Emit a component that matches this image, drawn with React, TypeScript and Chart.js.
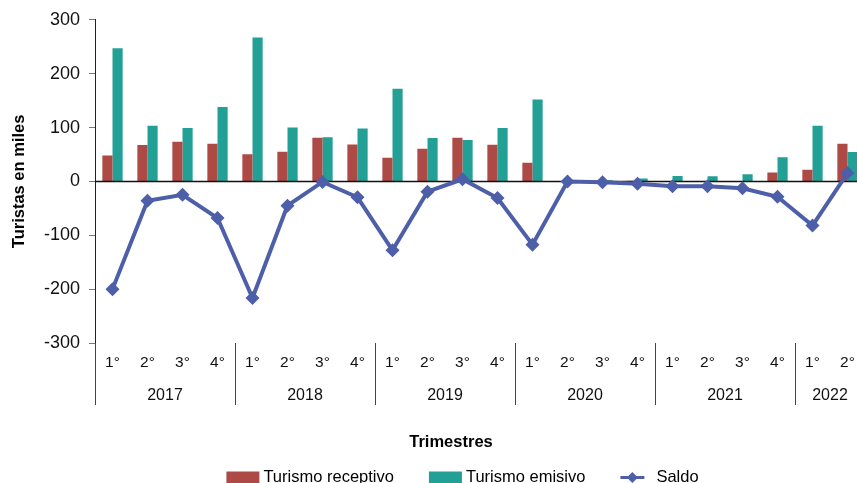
import React, { useEffect, useRef } from "react";
import { Chart, registerables } from "chart.js";

Chart.register(...registerables);

const FONT = "'Liberation Sans', Arial, Helvetica, sans-serif";

const years = ["2017", "2018", "2019", "2020", "2021", "2022"];
const quartersPerYear = [4, 4, 4, 4, 4, 2];
const quarterNames = ["1°", "2°", "3°", "4°"];

const receptivo = [48, 67.5, 73.5, 70, 50.5, 55, 81, 68.5, 44, 60.5, 81, 68, 34.5, 0.3, 0.4, 1.2, 0.6, 0.5, 0.6, 16.5, 21.5, 70];
const emisivo = [247, 103.5, 99, 138, 267, 100, 82, 98, 172, 80.5, 77, 99, 152, 0.6, 2, 5.5, 9.8, 9.7, 13.5, 45, 103.5, 54.5];
const saldo = [-200, -36, -25, -68, -216.5, -45, -1, -29.5, -128, -19, 4, -31, -117.5, -0.3, -1.6, -4.3, -9.2, -9.2, -12.9, -28.5, -82, 15.5];

const yTicks = { min: -300, max: 300, step: 100 };

const seriesNames = ["Turismo receptivo", "Turismo emisivo", "Saldo"];
const RED = "#AE4A46";
const TEAL = "#22A096";
const BLUE = "#4E5FA9";

const quarterLabels: string[] = [];
const categories: string[] = [];
years.forEach((yr, g) => {
  for (let q = 0; q < quartersPerYear[g]; q++) {
    quarterLabels.push(quarterNames[q]);
    categories.push(`${quarterNames[q]} ${yr}`);
  }
});

const decorPlugin = {
  id: "decor",
  beforeDatasetDraw(chart: any, args: any) {
    if (args.meta.type !== "line") return;
    const { ctx, chartArea, scales } = chart;
    const y0 = scales.y.getPixelForValue(0);
    ctx.save();
    ctx.strokeStyle = "#111";
    ctx.lineWidth = 1.5;
    ctx.beginPath();
    ctx.moveTo(chartArea.left, y0);
    ctx.lineTo(chartArea.right, y0);
    ctx.stroke();
    ctx.restore();
  },
  afterDraw(chart: any) {
    const { ctx, chartArea, scales } = chart;
    const x = scales.x;
    const bottom = chartArea.bottom;
    ctx.save();
    ctx.fillStyle = "#111";
    ctx.textAlign = "center";
    ctx.textBaseline = "middle";
    ctx.font = `15.5px ${FONT}`;
    quarterLabels.forEach((q, i) => {
      ctx.fillText(q, x.getPixelForValue(i), bottom + 20);
    });
    const half = (x.getPixelForValue(1) - x.getPixelForValue(0)) / 2;
    let start = 0;
    ctx.font = `16px ${FONT}`;
    ctx.strokeStyle = "#444";
    ctx.lineWidth = 1;
    years.forEach((yr, g) => {
      const n = quartersPerYear[g];
      const left = x.getPixelForValue(start) - half;
      const right = x.getPixelForValue(start + n - 1) + half;
      ctx.fillText(yr, (left + right) / 2, bottom + 53);
      const lx = Math.round(left) + 0.5;
      ctx.beginPath();
      ctx.moveTo(lx, bottom);
      ctx.lineTo(lx, bottom + 62);
      ctx.stroke();
      start += n;
    });

    // x axis title
    ctx.font = `bold 16.5px ${FONT}`;
    ctx.fillStyle = "#000";
    ctx.fillText("Trimestres", 451, bottom + 99);

    // legend
    ctx.font = `16.5px ${FONT}`;
    ctx.textAlign = "left";
    ctx.textBaseline = "alphabetic";
    const sw = 33, lineW = 24, gapText = 4, gapItem = 35;
    const widths = seriesNames.map((s) => ctx.measureText(s).width);
    const total = sw + gapText + widths[0] + gapItem + sw + gapText + widths[1] + gapItem + lineW + 12 + widths[2];
    let cx = 462.5 - total / 2;
    const baseY = 482;
    const midY = 477.5;
    ctx.fillStyle = RED;
    ctx.fillRect(cx, midY - 6, sw, 13);
    cx += sw + gapText;
    ctx.fillStyle = "#000";
    ctx.fillText(seriesNames[0], cx, baseY);
    cx += widths[0] + gapItem;
    ctx.fillStyle = TEAL;
    ctx.fillRect(cx, midY - 6, sw, 13);
    cx += sw + gapText;
    ctx.fillStyle = "#000";
    ctx.fillText(seriesNames[1], cx, baseY);
    cx += widths[1] + gapItem;
    ctx.strokeStyle = BLUE;
    ctx.lineWidth = 3;
    ctx.beginPath();
    ctx.moveTo(cx, midY);
    ctx.lineTo(cx + lineW, midY);
    ctx.stroke();
    ctx.fillStyle = BLUE;
    const dx = cx + lineW / 2;
    ctx.beginPath();
    ctx.moveTo(dx, midY - 5.5);
    ctx.lineTo(dx + 5.5, midY);
    ctx.lineTo(dx, midY + 5.5);
    ctx.lineTo(dx - 5.5, midY);
    ctx.closePath();
    ctx.fill();
    cx += lineW + 12;
    ctx.fillStyle = "#000";
    ctx.fillText(seriesNames[2], cx, baseY);
    ctx.restore();
  },
};

export default function App() {
  const ref = useRef<HTMLCanvasElement | null>(null);
  useEffect(() => {
    if (!ref.current) return;
    Chart.defaults.font.family = FONT;
    const chart = new Chart(ref.current, {
      type: "bar",
      data: {
        labels: categories,
        datasets: [
          {
            type: "bar",
            label: seriesNames[0],
            data: receptivo,
            backgroundColor: RED,
            categoryPercentage: 0.58,
            barPercentage: 1,
            order: 1,
          },
          {
            type: "bar",
            label: seriesNames[1],
            data: emisivo,
            backgroundColor: TEAL,
            categoryPercentage: 0.58,
            barPercentage: 1,
            order: 1,
          },
          {
            type: "line",
            label: seriesNames[2],
            data: saldo,
            borderColor: BLUE,
            backgroundColor: BLUE,
            borderWidth: 4,
            pointStyle: "rectRot",
            pointRadius: 7,
            pointBackgroundColor: BLUE,
            pointBorderColor: BLUE,
            pointBorderWidth: 0,
            tension: 0,
            order: 0,
          } as any,
        ],
      },
      options: {
        responsive: false,
        animation: false,
        layout: { padding: { top: 18, right: 4, bottom: 140, left: 0 } },
        plugins: { legend: { display: false }, tooltip: { enabled: false } },
        scales: {
          x: { type: "category", display: false, offset: true },
          y: {
            min: yTicks.min,
            max: yTicks.max,
            ticks: { stepSize: yTicks.step, padding: 9, color: "#111", font: { size: 18 } },
            grid: { drawOnChartArea: false, drawTicks: true, tickLength: 6, color: "#777" },
            border: { display: true, color: "#222", width: 1 },
            title: {
              display: true,
              text: "Turistas en miles",
              color: "#000",
              font: { size: 16.5, weight: "bold" },
              padding: { top: 10, bottom: 0 },
            },
            afterFit: (s: any) => {
              s.width = 95;
            },
          },
        },
      } as any,
      plugins: [decorPlugin],
    });
    return () => chart.destroy();
  }, []);
  return (
    <div style={{ position: "fixed", left: 0, top: 0, width: 857, height: 483, overflow: "hidden", background: "#fff" }}>
      <canvas ref={ref} width={872} height={483} style={{ display: "block" }} />
    </div>
  );
}
